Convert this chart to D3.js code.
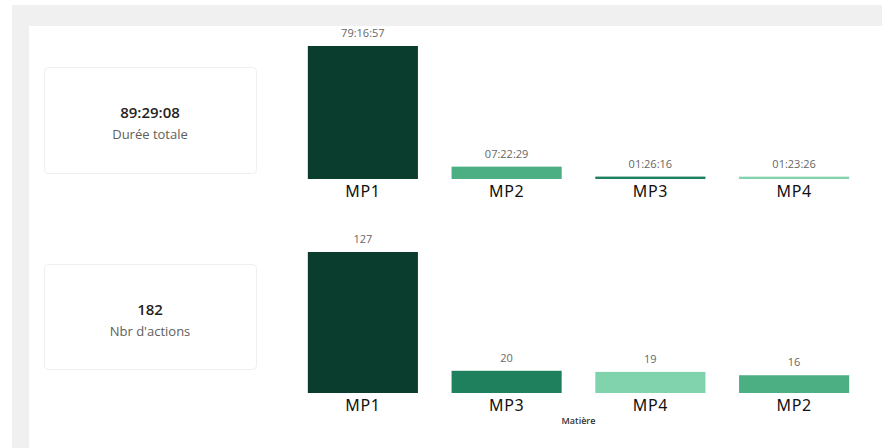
<!DOCTYPE html>
<html>
<head>
<meta charset="utf-8">
<script src="https://cdn.jsdelivr.net/npm/d3@7"></script>
<style>
  body { margin: 0; background: #fff; font-family: "Segoe UI", "Open Sans", sans-serif; }
  .axis path { display: none; }
  .axis text { font-size: 16px; fill: #111; font-family: "Noto Sans", sans-serif; letter-spacing: 0.6px; }
</style>
</head>
<body>
<script>
// Durée par matière
const durationCategories = ["MP1", "MP2", "MP3", "MP4"];
const durationLabels = ["79:16:57", "07:22:29", "01:26:16", "01:23:26"];

// Nombre d'actions par matière
const actionCategories = ["MP1", "MP3", "MP4", "MP2"];
const actionCounts = [127, 20, 19, 16];

const colors = { MP1: "#0b3d2f", MP2: "#4caf84", MP3: "#1f805e", MP4: "#80d3ac" };

const toSeconds = (s) => {
	const p = s.split(":").map(Number);
	return p[0] * 3600 + p[1] * 60 + p[2];
};
const toHms = (t) => {
	const pad = (n) => String(n).padStart(2, "0");
	return pad(Math.floor(t / 3600)) + ":" + pad(Math.floor((t % 3600) / 60)) + ":" + pad(t % 60);
};

const width = 882;
const height = 448;

const svg = d3.select("body").append("svg").attr("width", width).attr("height", height);

// page background (report canvas)
svg.append("rect").attr("x", 12).attr("y", 5).attr("width", width - 12).attr("height", 21).attr("fill", "#f0f0f0");
svg.append("rect").attr("x", 12).attr("y", 5).attr("width", 17).attr("height", height - 5).attr("fill", "#f0f0f0");

// cards
function card(y, h, value, label) {
	const g = svg.append("g").attr("transform", "translate(44," + y + ")");
	g.append("rect")
		.attr("x", 0.5).attr("y", 0.5)
		.attr("width", 212).attr("height", h)
		.attr("rx", 4)
		.attr("fill", "#fff")
		.attr("stroke", "#efefef");
	g.append("text")
		.attr("x", 106).attr("y", h / 2 - 2)
		.attr("text-anchor", "middle")
		.attr("font-size", 15).attr("font-weight", 600)
		.attr("fill", "#252423")
		.text(value);
	g.append("text")
		.attr("x", 106).attr("y", h / 2 + 19)
		.attr("text-anchor", "middle")
		.attr("font-size", 13)
		.attr("fill", "#605e5c")
		.text(label);
}

const durationSeconds = durationLabels.map(toSeconds);
card(67, 106, toHms(d3.sum(durationSeconds)), "Durée totale");
card(264, 105, d3.sum(actionCounts), "Nbr d'actions");

// bar charts
function barChart(cats, values, labels, top, bottom) {
	const x = d3.scaleBand().domain(cats).range([291, 866]).paddingInner(0.234).paddingOuter(0.117);
	const y = d3.scaleLinear().domain([0, d3.max(values)]).range([bottom, top]);
	const data = cats.map((c, i) => ({ c, v: values[i], l: labels[i] }));

	const g = svg.append("g");
	g.selectAll(".bar")
		.data(data)
		.enter()
		.append("rect")
		.attr("class", "bar")
		.attr("x", (d) => x(d.c))
		.attr("y", (d) => y(d.v))
		.attr("width", x.bandwidth())
		.attr("height", (d) => bottom - y(d.v))
		.attr("fill", (d) => colors[d.c]);

	g.selectAll(".lbl")
		.data(data)
		.enter()
		.append("text")
		.attr("class", "lbl")
		.attr("x", (d) => x(d.c) + x.bandwidth() / 2)
		.attr("y", (d) => y(d.v) - 9)
		.attr("text-anchor", "middle")
		.attr("font-size", 11)
		.attr("fill", "#666")
		.text((d) => d.l);

	g.append("g")
		.attr("class", "axis")
		.attr("transform", "translate(0," + bottom + ")")
		.call(d3.axisBottom(x).tickSize(0).tickPadding(7));
	return x;
}

barChart(durationCategories, durationSeconds, durationLabels, 46, 179);
const x2 = barChart(actionCategories, actionCounts, actionCounts, 252, 393);

svg.append("text")
	.attr("x", (x2.range()[0] + x2.range()[1]) / 2)
	.attr("y", 424)
	.attr("text-anchor", "middle")
	.attr("font-size", 9)
	.attr("font-weight", 600)
	.attr("fill", "#333")
	.text("Matière");
</script>
</body>
</html>
